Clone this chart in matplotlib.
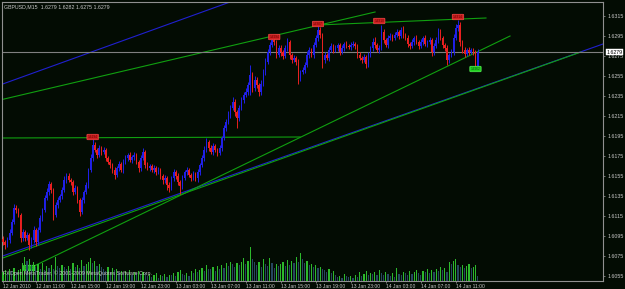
import numpy as np
import matplotlib
matplotlib.use("Agg")
import matplotlib.pyplot as plt

plt.rcParams['font.family'] = ['Liberation Sans', 'DejaVu Sans']

# GBPUSD M15, 12 Jan 2010 07:15 .. 14 Jan 2010 ~13:30
first_open = 1.6092
closes = [
    1.6089, 1.6086, 1.6091, 1.6098, 1.6109, 1.6123, 1.6121, 1.6116, 1.6093, 1.6099,
    1.6093, 1.6096, 1.6086, 1.6091, 1.6101, 1.6089, 1.6101, 1.6113, 1.6121, 1.6133,
    1.6139, 1.6147, 1.6141, 1.6116, 1.6126, 1.6131, 1.6135, 1.6141, 1.6151, 1.6155,
    1.6151, 1.6149, 1.6139, 1.6143, 1.6131, 1.6119, 1.6131, 1.6139, 1.6146, 1.6161,
    1.6173, 1.6186, 1.6181, 1.6176, 1.6183, 1.6179, 1.6181, 1.6173, 1.6169, 1.6166,
    1.6161, 1.6156, 1.6163, 1.6167, 1.6161, 1.6169, 1.6173, 1.6176, 1.6171, 1.6174,
    1.6176, 1.6169, 1.6163, 1.6173, 1.6179, 1.6166, 1.6163, 1.6165, 1.6161, 1.6163,
    1.6159, 1.6161, 1.6155, 1.6151, 1.6153, 1.6146, 1.6143, 1.6153, 1.6159, 1.6155,
    1.6149, 1.6145, 1.6153, 1.6159, 1.6161, 1.6156, 1.6153, 1.6157, 1.6153, 1.6159,
    1.6166, 1.6173, 1.6181, 1.6189, 1.6183, 1.6179, 1.6185, 1.6181, 1.6178, 1.6183,
    1.6193, 1.6203, 1.6209, 1.6216, 1.6223, 1.6229, 1.6219, 1.6213, 1.6223, 1.6231,
    1.6236, 1.6239, 1.6246, 1.6256, 1.6243, 1.6251, 1.6246, 1.6239, 1.6247, 1.6259,
    1.6269, 1.6279, 1.6286, 1.6291, 1.6289, 1.6276, 1.6283, 1.6279, 1.6275, 1.6283,
    1.6289, 1.6276, 1.6271, 1.6273, 1.6269, 1.6253, 1.6259, 1.6261, 1.6266, 1.6276,
    1.6281, 1.6276, 1.6286, 1.6293, 1.6301, 1.6296, 1.6271, 1.6276, 1.6273, 1.6281,
    1.6285, 1.6281, 1.6283, 1.6286, 1.6279, 1.6283, 1.6287, 1.6285, 1.6284, 1.6286,
    1.6287, 1.6285, 1.6276, 1.6273, 1.6271, 1.6274, 1.6267, 1.6276, 1.6283, 1.6289,
    1.6286, 1.6281, 1.6283, 1.6299, 1.6291, 1.6286, 1.6293, 1.6295, 1.6293, 1.6296,
    1.6299, 1.6295, 1.6301, 1.6296, 1.6293, 1.6287, 1.6285, 1.6289, 1.6293, 1.6289,
    1.6285, 1.6289, 1.6293, 1.6287, 1.6289, 1.6291, 1.6279, 1.6285, 1.6291, 1.6299,
    1.6293, 1.6286, 1.6283, 1.6271, 1.6276, 1.6279, 1.6293, 1.6303, 1.6306, 1.6289,
    1.6281, 1.6277, 1.6281, 1.6279, 1.6281, 1.6279, 1.6265, 1.6279,
]
# shadows in pips above max(open, close) and below min(open, close)
wick_up = [
    3, 2, 3, 4, 3, 4, 3, 2, 2, 3,  2, 3, 2, 3, 4, 2, 3, 3, 2, 3,
    4, 3, 2, 2, 3, 3, 2, 3, 4, 3,  3, 2, 2, 3, 2, 2, 3, 2, 3, 2,
    4, 6, 3, 2, 3, 2, 3, 2, 2, 3,  2, 3, 2, 3, 2, 3, 3, 2, 3, 2,
    3, 2, 2, 3, 4, 2, 3, 2, 2, 3,  2, 3, 2, 2, 3, 2, 3, 2, 3, 2,
    3, 2, 3, 2, 3, 2, 2, 3, 2, 3,  2, 3, 4, 4, 2, 3, 3, 2, 2, 3,
    2, 3, 3, 4, 3, 5, 3, 2, 3, 3,  3, 4, 3, 10, 3, 4, 3, 2, 4, 3,
    4, 3, 3, 3, 4, 2, 3, 3, 2, 3,  4, 2, 2, 3, 2, 3, 2, 3, 3, 4,
    3, 2, 3, 3, 5, 3, 2, 3, 2, 3,  3, 2, 3, 2, 2, 3, 2, 3, 2, 3,
    3, 2, 2, 3, 2, 3, 2, 3, 2, 4,  5, 2, 3, 7, 3, 2, 3, 3, 2, 3,
    3, 2, 3, 4, 2, 3, 2, 3, 2, 3,  2, 3, 2, 3, 2, 3, 2, 3, 3, 4,
    3, 2, 2, 3, 2, 3, 4, 4, 5, 3,  2, 3, 2, 3, 2, 2, 2, 3,
]
wick_dn = [
    3, 4, 2, 3, 2, 2, 3, 2, 4, 3,  3, 2, 5, 3, 3, 4, 3, 2, 3, 2,
    2, 3, 3, 5, 2, 3, 2, 3, 2, 3,  2, 3, 3, 2, 3, 4, 2, 3, 2, 3,
    2, 3, 2, 3, 2, 3, 2, 3, 2, 3,  3, 4, 2, 3, 2, 3, 2, 3, 2, 3,
    3, 2, 4, 3, 2, 3, 2, 3, 2, 3,  3, 2, 3, 4, 3, 5, 4, 2, 3, 3,
    3, 8, 3, 2, 3, 2, 3, 2, 3, 4,  3, 2, 3, 2, 3, 2, 3, 2, 3, 2,
    3, 2, 3, 2, 3, 2, 4, 10, 3, 2,  3, 2, 3, 10, 4, 3, 3, 4, 3, 2,
    3, 2, 3, 2, 3, 3, 2, 4, 3, 2,  3, 4, 3, 2, 3, 6, 3, 2, 3, 2,
    3, 2, 3, 2, 3, 3, 8, 3, 2, 3,  2, 3, 2, 3, 3, 2, 3, 2, 2, 3,
    2, 3, 3, 2, 3, 2, 4, 3, 2, 3,  3, 2, 3, 2, 3, 2, 3, 2, 3, 2,
    2, 3, 2, 3, 2, 3, 3, 2, 3, 2,  3, 2, 3, 2, 3, 2, 4, 3, 2, 3,
    2, 3, 3, 5, 3, 2, 3, 2, 3, 4,  3, 3, 2, 3, 2, 3, 3, 2,
]
volumes = [
    135, 165, 120, 180, 150, 195, 135, 165, 180,
    270, 360, 300, 330, 240, 285,
    210, 255, 180, 270, 165, 225, 195, 240, 180,
    360, 225, 195, 240, 210, 180,
    225, 180, 270, 210, 240, 195, 315, 225, 255,
    285, 345, 270, 300, 225, 255, 210,
    180, 150, 210, 135, 195, 165, 180, 135, 150,
    120, 150, 105, 165, 90, 135, 120, 150, 105, 135, 120,
    75, 105, 60, 90, 120, 45, 90, 75, 105, 60, 90,
    90, 120, 75, 135, 165, 105, 90, 120, 75,
    150, 120, 180, 135, 165, 195, 150, 240, 180,
    180, 210, 150, 225, 180, 240, 195, 270, 225, 285, 255, 210,
    270, 240, 285, 345, 255, 300, 510, 330, 285,
    240, 285, 210, 330, 255, 225, 345, 270, 195, 255, 225,
    255, 285, 225, 315, 240, 300, 270, 360, 285, 420,
    330, 270, 300, 240, 255, 210, 240, 195, 210, 180,
    165, 135, 180, 120, 150, 90, 60, 75, 45, 105, 75, 60,
    75, 45, 90, 60, 135, 75, 105, 150, 90, 120,
    105, 135, 90, 165, 120, 90, 135, 105,
    75, 120, 60, 195, 105, 90, 135, 120, 90, 150,
    105, 135, 165, 120, 90, 150, 135, 180, 120, 165, 135,
    180, 150, 210, 165, 195, 135,
    285, 255, 300, 330, 240,
    210, 240, 195, 225, 255, 195, 210, 240, 75,
]

time_ticks = [0, 15, 31, 47, 63, 79, 95, 111, 127, 143, 159, 175, 191, 207]
time_labels = ['12 Jan 2010', '12 Jan 11:00', '12 Jan 15:00', '12 Jan 19:00',
               '12 Jan 23:00', '13 Jan 03:00', '13 Jan 07:00', '13 Jan 11:00',
               '13 Jan 15:00', '13 Jan 19:00', '13 Jan 23:00', '14 Jan 03:00',
               '14 Jan 07:00', '14 Jan 11:00']
price_ticks = [1.6055 + 0.002 * k for k in range(14)]
bid = 1.6279

# drawn objects: (bar, price) anchors
blue_lines = [((-1.4, 1.6246), (103.8, 1.6329)),
              ((-1.4, 1.6074), (274.3, 1.6287))]
green_lines = [((-1.4, 1.6231), (170.1, 1.6319)),
               ((144.0, 1.6306), (220.8, 1.6313)),
               ((-1.4, 1.6193), (135.8, 1.6194)),
               ((-1.4, 1.6072), (264.2, 1.6279)),
               ((12.3, 1.6063), (231.8, 1.6295))]
high_marks = [(41, 1.6194), (124, 1.6294), (144, 1.6307), (172, 1.6310), (208, 1.6314)]
low_marks = [(216, 1.6262), (12, 1.6063)]

BG = '#030c03'
FG = '#c8c8c8'

c = np.array(closes)
o = np.r_[first_open, c[:-1]]
hi = np.maximum(o, c) + np.array(wick_up) * 0.0001
lo = np.minimum(o, c) - np.array(wick_dn) * 0.0001
idx = np.arange(len(c))
col = np.where(c > o + 1e-9, '#2020e8', np.where(c < o - 1e-9, '#e82020', '#20c020'))

fig = plt.figure(figsize=(6.25, 2.89), dpi=100, facecolor=BG)
ax = fig.add_axes([2 / 625, 8 / 289, 601 / 625, 279 / 289], facecolor=BG)
ax.set_xlim(-0.46, 274.3)
ax.set_ylim(1.6050, 1.6329)

# volumes in the bottom of the window
vol = np.array(volumes)
vcol = np.where(np.r_[True, vol[1:] > vol[:-1]], '#2cb82c', '#26465f')
ax2 = ax.twinx()
ax2.bar(idx, vol, width=0.55, color=vcol, linewidth=0)
ax2.set_ylim(0, 4200)
ax2.set_xlim(-0.46, 274.3)
ax2.axis('off')

for (x0, y0), (x1, y1) in blue_lines:
    ax.plot([x0, x1], [y0, y1], color='#2020d0', lw=0.8, zorder=2)
for (x0, y0), (x1, y1) in green_lines:
    ax.plot([x0, x1], [y0, y1], color='#10a010', lw=0.8, zorder=2)
ax.axhline(bid, color='#808080', lw=0.8, zorder=2)

ax.vlines(idx, lo, hi, colors=col, lw=0.7, zorder=3)
body = np.maximum(np.abs(c - o), 0.00006)
ax.bar(idx, body, bottom=np.minimum(o, c), width=0.7, color=col, linewidth=0, zorder=3)

for b, p in high_marks:
    ax.text(b, p, '%.4f' % p, fontsize=2.3, color='#600000', ha='center', va='center', zorder=5,
            bbox=dict(boxstyle='round,pad=0.25', fc='#d02020', ec='#ff5050', lw=0.4))
for b, p in low_marks:
    ax.text(b, p, '%.4f' % p, fontsize=2.3, color='#005000', ha='center', va='center', zorder=5,
            bbox=dict(boxstyle='round,pad=0.25', fc='#20d020', ec='#60ff60', lw=0.4))

ax.set_xticks(time_ticks)
ax.set_xticklabels(time_labels, ha='left', fontsize=3.6, color=FG)
ax.yaxis.tick_right()
ax.set_yticks(price_ticks)
ax.set_yticklabels(['%.4f' % p for p in price_ticks], fontsize=3.8, color=FG)
ax.tick_params(axis='both', length=1.5, width=0.5, color='#a0a0a0', pad=1.5)
ax.tick_params(axis='x', pad=0.3)
for s in ax.spines.values():
    s.set_color('#909090')
    s.set_linewidth(0.8)

ax.annotate('%.4f' % bid, xy=(1.0, bid), xycoords=('axes fraction', 'data'),
            xytext=(2.5, 0), textcoords='offset points', fontsize=3.8, color='black',
            ha='left', va='center', zorder=6,
            bbox=dict(boxstyle='square,pad=0.15', fc='white', ec='white', lw=0.3),
            annotation_clip=False)

ax.text(0.004, 0.982, 'GBPUSD,M15  1.6279 1.6282 1.6275 1.6279', transform=ax.transAxes,
        fontsize=3.8, color=FG, ha='left', va='center')
# copyright line sits on top of the volume bars
ax2.text(0.002, 0.029, 'FXOpen MetaTrader, \u00a9 2001-2009 MetaQuotes Software Corp.',
         transform=ax2.transAxes, fontsize=3.8, color=FG, ha='left', va='center', zorder=6)

fig.savefig('out.png', dpi=100, facecolor=BG)
